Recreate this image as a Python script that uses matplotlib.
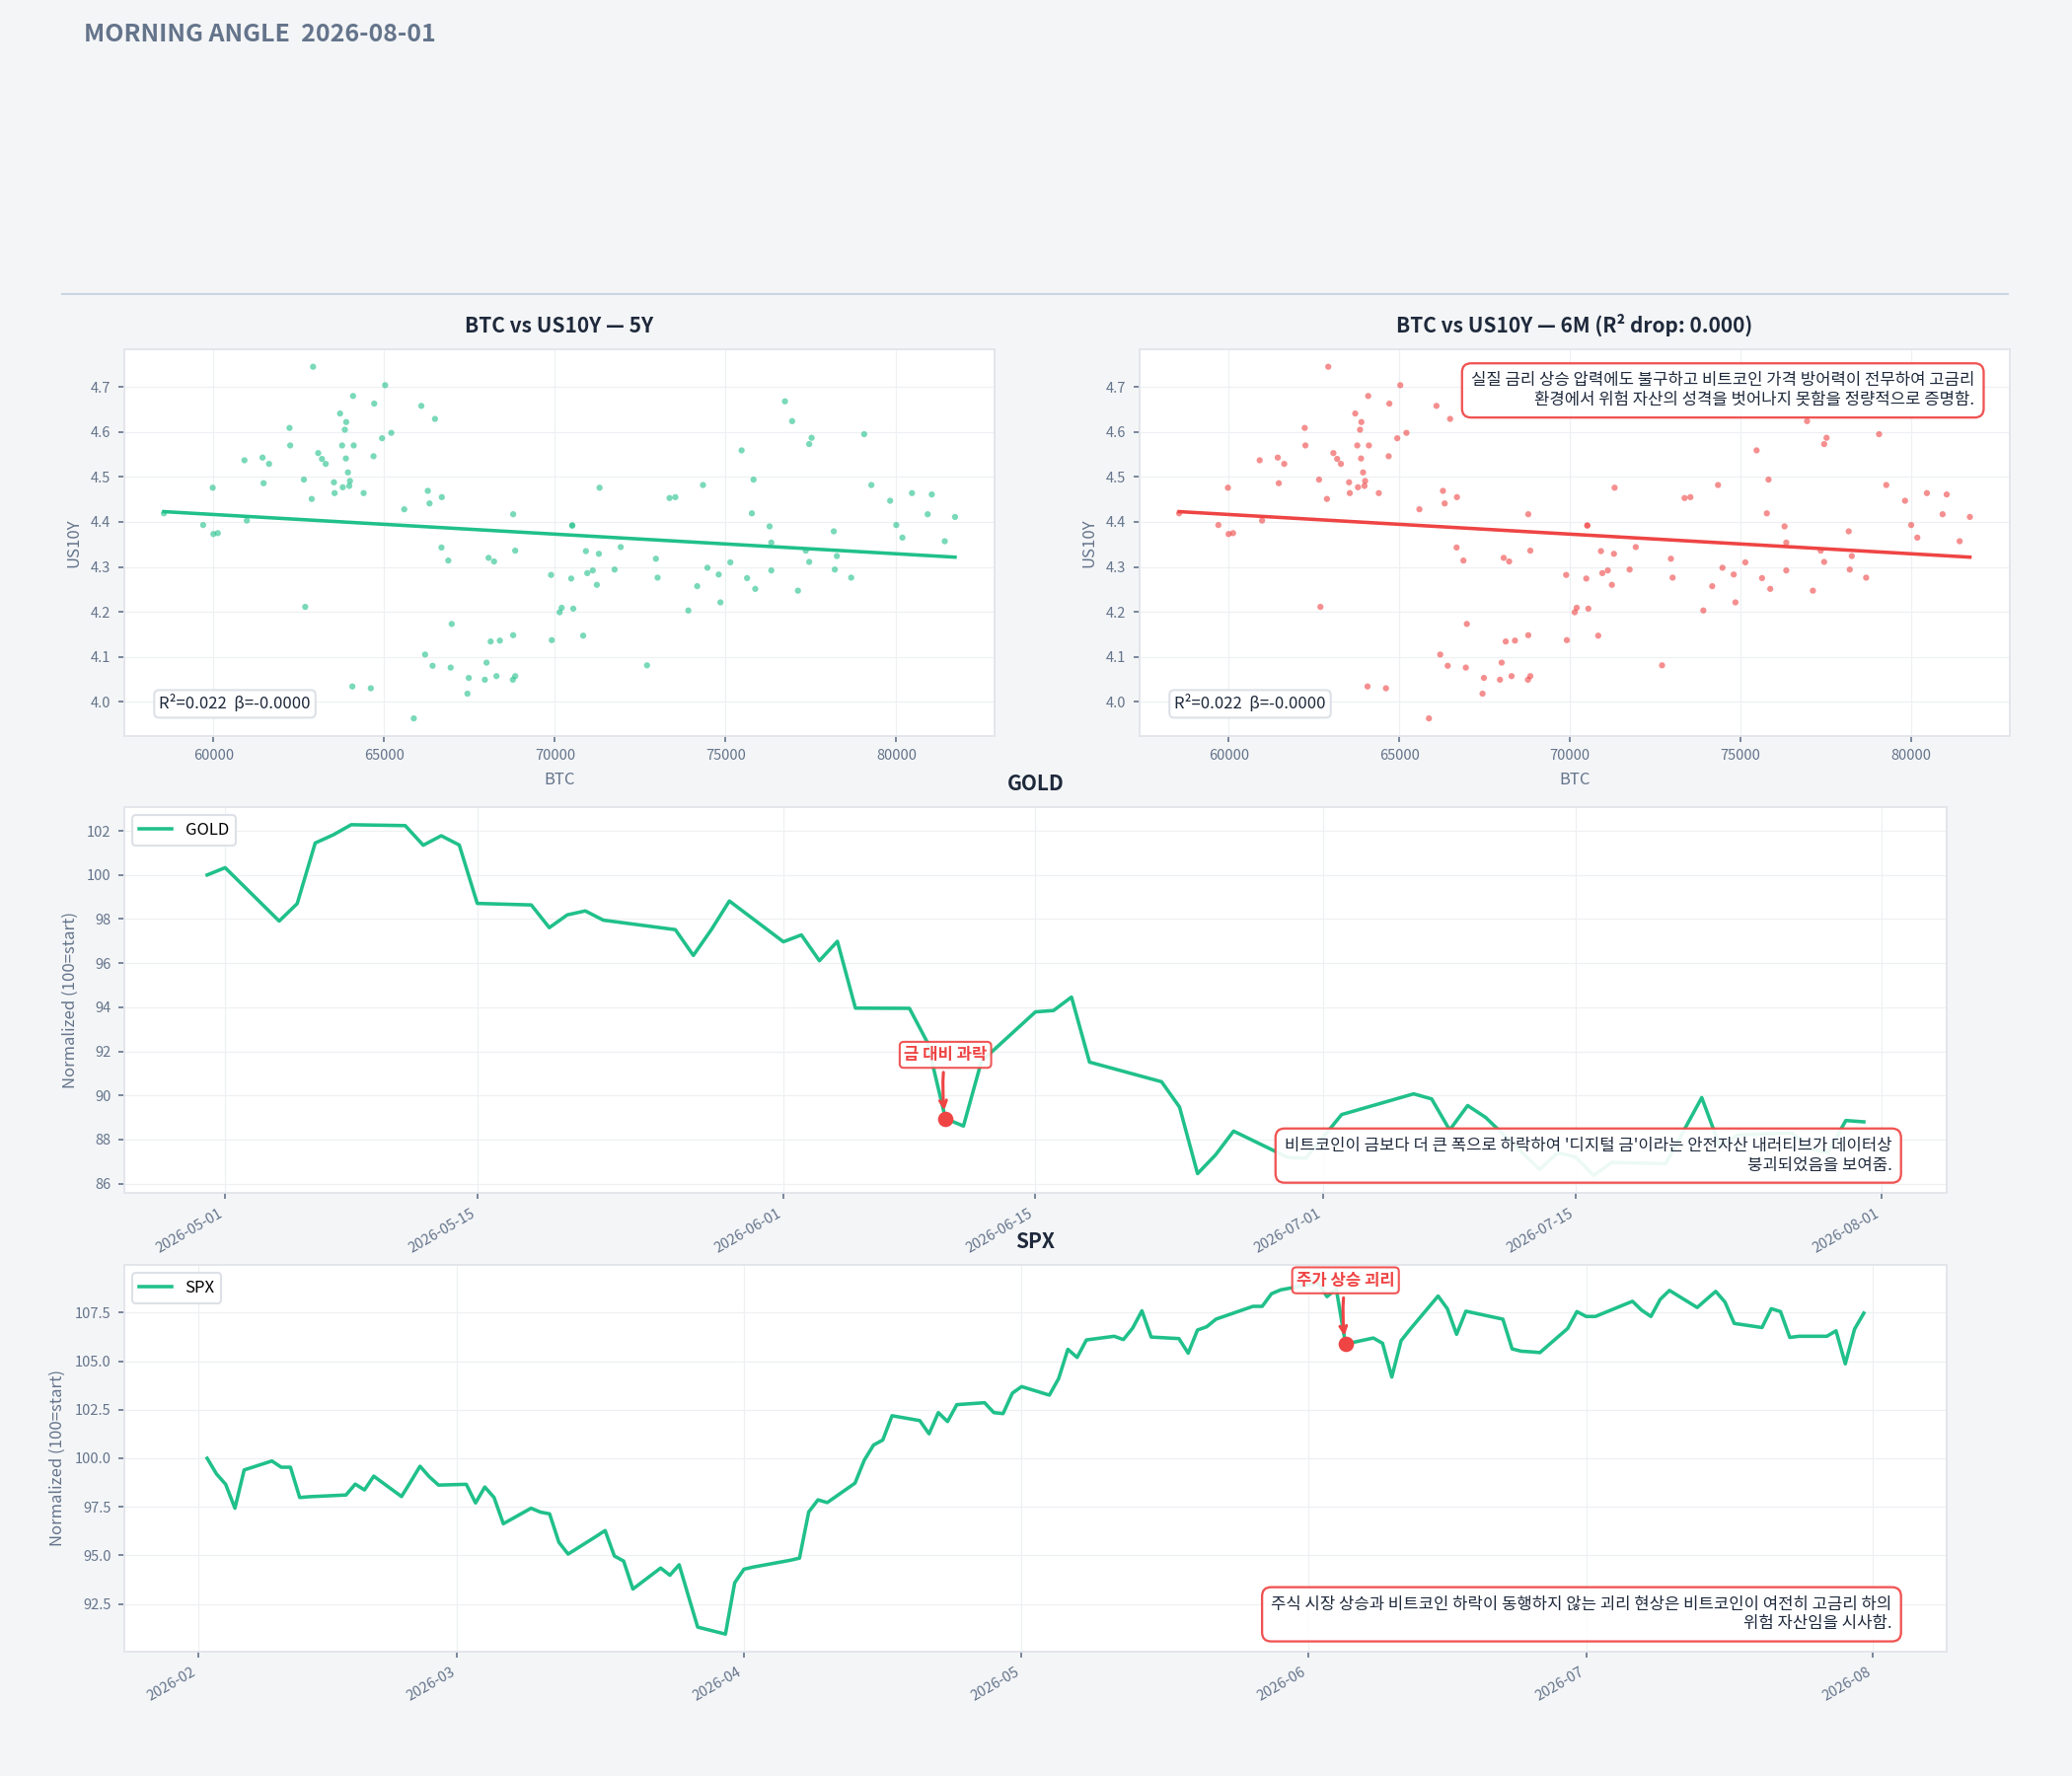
import numpy as np
import pandas as pd
import matplotlib
matplotlib.use('Agg')
import matplotlib.pyplot as plt
import matplotlib.dates as mdates
from matplotlib.lines import Line2D

plt.rcParams['font.family'] = ['Noto Sans CJK KR', 'DejaVu Sans']
plt.rcParams['axes.unicode_minus'] = False

# %% data

btc = [58550, 59980, 59700, 60000, 60130, 60980, 60910, 61440, 61630, 61470,
       62230, 62250, 62650, 62880, 62920, 62690, 63070, 63180, 63290, 63530,
       63550, 63790, 63710, 63890, 63850, 63770, 63880, 63940, 64000, 63980,
       64090, 64110, 64400, 64710, 64690, 64940, 65030, 65210, 64070, 64610,
       65590, 66090, 66490, 66280, 66330, 66690, 66680, 66880, 66980, 66200,
       66420, 66950, 65870, 67480, 67440, 67950, 68000, 68120, 68390, 68780,
       68290, 68770, 68840, 68060, 68220, 68780, 68840, 69890, 69910,
       70140, 70200, 70540, 70510, 70510, 70480, 70830, 70910, 70950, 71110,
       71230, 71290, 71310, 71750, 71930, 72700, 72960, 73010, 73360, 73530,
       73910, 74170, 74340, 74470, 74800, 74850, 75140, 75470, 75630, 75820,
       75770, 75870, 76290, 76340, 76340, 76740, 76950, 77450, 77520, 77120,
       77350, 77450, 78170, 78260, 78200, 78680, 79060, 79270, 79820, 80000,
       80180, 80460, 81040, 80920, 81420, 81720]

us10y = [4.419, 4.476, 4.393, 4.373, 4.375, 4.403, 4.537, 4.543, 4.529, 4.486,
         4.609, 4.570, 4.494, 4.451, 4.745, 4.211, 4.553, 4.540, 4.529, 4.488,
         4.464, 4.477, 4.641, 4.622, 4.605, 4.570, 4.541, 4.510, 4.491, 4.480,
         4.680, 4.570, 4.464, 4.663, 4.546, 4.586, 4.704, 4.598, 4.034, 4.030,
         4.428, 4.658, 4.629, 4.469, 4.441, 4.455, 4.343, 4.314, 4.173, 4.105,
         4.080, 4.076, 3.963, 4.053, 4.018, 4.049, 4.087, 4.134, 4.136, 4.148,
         4.057, 4.049, 4.057, 4.320, 4.312, 4.417, 4.336, 4.282, 4.137,
         4.199, 4.209, 4.207, 4.392, 4.392, 4.274, 4.147, 4.335, 4.286, 4.292,
         4.260, 4.329, 4.476, 4.294, 4.344, 4.081, 4.318, 4.276, 4.453, 4.455,
         4.203, 4.257, 4.482, 4.298, 4.283, 4.221, 4.310, 4.559, 4.275, 4.494,
         4.419, 4.251, 4.390, 4.354, 4.292, 4.668, 4.624, 4.573, 4.587, 4.247,
         4.336, 4.311, 4.379, 4.324, 4.294, 4.276, 4.595, 4.482, 4.447, 4.393,
         4.365, 4.464, 4.461, 4.417, 4.357, 4.411]

gold_dates = ['2026-04-30', '2026-05-01', '2026-05-04', '2026-05-05', '2026-05-06',
              '2026-05-07', '2026-05-08', '2026-05-11', '2026-05-12', '2026-05-13',
              '2026-05-14', '2026-05-15', '2026-05-18', '2026-05-19', '2026-05-20',
              '2026-05-21', '2026-05-22', '2026-05-26', '2026-05-27', '2026-05-28',
              '2026-05-29', '2026-06-01', '2026-06-02', '2026-06-03', '2026-06-04',
              '2026-06-05', '2026-06-08', '2026-06-09', '2026-06-10', '2026-06-11',
              '2026-06-12', '2026-06-15', '2026-06-16', '2026-06-17', '2026-06-18',
              '2026-06-22', '2026-06-23', '2026-06-24', '2026-06-25', '2026-06-26',
              '2026-06-29', '2026-06-30', '2026-07-01', '2026-07-02', '2026-07-06',
              '2026-07-07', '2026-07-08', '2026-07-09', '2026-07-10', '2026-07-13',
              '2026-07-14', '2026-07-15', '2026-07-16', '2026-07-17', '2026-07-20',
              '2026-07-21', '2026-07-22', '2026-07-23', '2026-07-24', '2026-07-27',
              '2026-07-28', '2026-07-29', '2026-07-30', '2026-07-31']
gold_vals = [100.0, 100.33, 97.91, 98.70, 101.45,
             101.82, 102.28, 102.24, 101.35, 101.78,
             101.36, 98.71, 98.64, 97.61, 98.19,
             98.37, 97.95, 97.52, 96.35, 97.52,
             98.82, 96.97, 97.28, 96.11, 96.99,
             93.96, 93.95, 92.40, 88.95, 88.61,
             91.55, 93.79, 93.85, 94.46, 91.51,
             90.62, 89.47, 86.45, 87.30, 88.38,
             87.19, 87.15, 88.13, 89.13, 90.07,
             89.84, 88.43, 89.54, 89.00, 86.64,
             87.40, 87.20, 86.37, 86.96, 86.90,
             88.40, 89.90, 87.70, 88.20, 88.30,
             87.60, 87.40, 88.86, 88.80]

spx_dates = ['2026-02-02', '2026-02-03', '2026-02-04', '2026-02-05', '2026-02-06',
             '2026-02-09', '2026-02-10', '2026-02-11', '2026-02-12', '2026-02-13',
             '2026-02-17', '2026-02-18', '2026-02-19', '2026-02-20', '2026-02-23',
             '2026-02-24', '2026-02-25', '2026-02-26', '2026-02-27', '2026-03-02',
             '2026-03-03', '2026-03-04', '2026-03-05', '2026-03-06', '2026-03-09',
             '2026-03-10', '2026-03-11', '2026-03-12', '2026-03-13', '2026-03-16',
             '2026-03-17', '2026-03-18', '2026-03-19', '2026-03-20', '2026-03-23',
             '2026-03-24', '2026-03-25', '2026-03-26', '2026-03-27', '2026-03-30',
             '2026-03-31', '2026-04-01', '2026-04-02', '2026-04-06', '2026-04-07',
             '2026-04-08', '2026-04-09', '2026-04-10', '2026-04-13', '2026-04-14',
             '2026-04-15', '2026-04-16', '2026-04-17', '2026-04-20', '2026-04-21',
             '2026-04-22', '2026-04-23', '2026-04-24', '2026-04-27', '2026-04-28',
             '2026-04-29', '2026-04-30', '2026-05-01', '2026-05-04', '2026-05-05',
             '2026-05-06', '2026-05-07', '2026-05-08', '2026-05-11', '2026-05-12',
             '2026-05-13', '2026-05-14', '2026-05-15', '2026-05-18', '2026-05-19',
             '2026-05-20', '2026-05-21', '2026-05-22', '2026-05-26', '2026-05-27',
             '2026-05-28', '2026-05-29', '2026-06-01', '2026-06-02', '2026-06-03',
             '2026-06-04', '2026-06-05', '2026-06-08', '2026-06-09', '2026-06-10',
             '2026-06-11', '2026-06-12', '2026-06-15', '2026-06-16', '2026-06-17',
             '2026-06-18', '2026-06-22', '2026-06-23', '2026-06-24', '2026-06-25',
             '2026-06-26', '2026-06-29', '2026-06-30', '2026-07-01', '2026-07-02',
             '2026-07-06', '2026-07-07', '2026-07-08', '2026-07-09', '2026-07-10',
             '2026-07-13', '2026-07-14', '2026-07-15', '2026-07-16', '2026-07-17',
             '2026-07-20', '2026-07-21', '2026-07-22', '2026-07-23', '2026-07-24',
             '2026-07-27', '2026-07-28', '2026-07-29', '2026-07-30', '2026-07-31']
spx_vals = [100.0, 99.20, 98.66, 97.43, 99.40,
            99.86, 99.54, 99.54, 97.98, 98.02,
            98.11, 98.67, 98.37, 99.08, 98.03,
            98.80, 99.59, 99.05, 98.62, 98.66,
            97.70, 98.52, 97.98, 96.63, 97.43,
            97.23, 97.14, 95.68, 95.07, 95.97,
            96.28, 94.97, 94.71, 93.27, 94.35,
            93.98, 94.52, 92.91, 91.31, 90.95,
            93.59, 94.29, 94.40, 94.75, 94.86,
            97.24, 97.86, 97.72, 98.72, 99.90,
            100.68, 100.94, 102.19, 101.94, 101.26,
            102.35, 101.89, 102.76, 102.86, 102.35,
            102.30, 103.35, 103.69, 103.25, 104.10,
            105.61, 105.19, 106.09, 106.28, 106.11,
            106.70, 107.59, 106.24, 106.16, 105.41,
            106.60, 106.77, 107.16, 107.82, 107.82,
            108.47, 108.67, 108.93, 109.05, 108.32,
            108.72, 105.88, 106.19, 105.92, 104.18,
            106.05, 106.65, 108.35, 107.70, 106.38,
            107.57, 107.16, 105.63, 105.51, 105.48,
            105.44, 106.68, 107.55, 107.30, 107.30,
            108.08, 107.62, 107.30, 108.18, 108.64,
            107.76, 108.18, 108.59, 108.04, 106.94,
            106.73, 107.70, 107.55, 106.22, 106.28,
            106.28, 106.56, 104.86, 106.65, 107.47]

header = 'MORNING ANGLE  2026-08-01'
title_5y = 'BTC vs US10Y — 5Y'
title_6m = 'BTC vs US10Y — 6M (R² drop: 0.000)'
stat_text = 'R²=0.022  β=-0.0000'
note_6m = ('실질 금리 상승 압력에도 불구하고 비트코인 가격 방어력이 전무하여 고금리\n'
           '환경에서 위험 자산의 성격을 벗어나지 못함을 정량적으로 증명함.')
gold_mark_date = '2026-06-10'
gold_mark_label = '금 대비 과락'
gold_note = ("비트코인이 금보다 더 큰 폭으로 하락하여 '디지털 금'이라는 안전자산 내러티브가 데이터상\n"
             "붕괴되었음을 보여줌.")
spx_mark_date = '2026-06-05'
spx_mark_label = '주가 상승 괴리'
spx_note = ('주식 시장 상승과 비트코인 하락이 동행하지 않는 괴리 현상은 비트코인이 여전히 고금리 하의\n'
            '위험 자산임을 시사함.')

# %% style

BG = '#f4f5f7'
GREEN = '#20c08a'
RED = '#ef4444'
DARK = '#1e293b'
MUTED = '#64748b'
SPINE = '#e2e5ea'
GRID = '#eef0f3'


def style_axes(ax):
    ax.set_facecolor('white')
    for s in ax.spines.values():
        s.set_color(SPINE)
        s.set_linewidth(0.9)
    ax.grid(True, color=GRID, linewidth=0.6)
    ax.set_axisbelow(True)
    ax.tick_params(labelsize=7, colors=MUTED, length=3, width=0.8)


def draw_scatter(ax, color, title, note=None):
    style_axes(ax)
    x = np.array(btc, dtype=float)
    y = np.array(us10y)
    ax.scatter(x, y, s=9, color=color, alpha=0.6, edgecolors='none')
    slope, icpt = np.polyfit(x, y, 1)
    xs = np.array([x.min(), x.max()])
    ax.plot(xs, slope * xs + icpt, color=color, lw=1.7)
    ax.set_title(title, fontsize=10, fontweight='bold', color=DARK, pad=8)
    ax.set_xlabel('BTC', fontsize=8, color=MUTED)
    ax.set_ylabel('US10Y', fontsize=8, color=MUTED)
    ax.text(0.04, 0.06, stat_text, transform=ax.transAxes, fontsize=8,
            color=DARK, va='bottom', ha='left',
            bbox=dict(boxstyle='round,pad=0.3', fc='white', ec='#dde1e7', lw=1))
    if note:
        ax.text(0.96, 0.94, note, transform=ax.transAxes, fontsize=8,
                color=DARK, va='top', ha='right',
                bbox=dict(boxstyle='round,pad=0.55', fc='white', ec=RED, lw=1.1, alpha=0.92))


def draw_series(ax, dates, vals, name, mark_date, mark_label, note, fmt, locator):
    style_axes(ax)
    d = pd.to_datetime(dates)
    ax.plot(d, vals, color=GREEN, lw=1.7, label=name)
    ax.set_title(name, fontsize=10, fontweight='bold', color=DARK, pad=8)
    ax.set_ylabel('Normalized (100=start)', fontsize=8, color=MUTED)
    ax.xaxis.set_major_locator(locator)
    ax.xaxis.set_major_formatter(mdates.DateFormatter(fmt))
    for lab in ax.get_xticklabels():
        lab.set_rotation(30)
        lab.set_ha('right')
    leg = ax.legend(loc='upper left', fontsize=8, frameon=True, fancybox=True,
                    edgecolor='#dde1e7', framealpha=1)
    leg.get_frame().set_linewidth(1.0)

    # 마커 + 라벨
    mx = pd.Timestamp(mark_date)
    my = vals[dates.index(mark_date)]
    ax.plot([mx], [my], 'o', color=RED, ms=6.5, zorder=6)
    ax.annotate(mark_label, xy=(mx, my), xytext=(0, 31), textcoords='offset points',
                ha='center', va='center', fontsize=8, fontweight='bold', color=RED,
                bbox=dict(boxstyle='round,pad=0.25', fc='white', ec=RED, lw=1, alpha=0.9),
                arrowprops=dict(arrowstyle='->', color=RED, lw=1.5, shrinkB=4,
                                connectionstyle='arc3,rad=0.08'),
                zorder=7)

    ax.text(0.97, 0.05, note, transform=ax.transAxes, fontsize=8, color=DARK,
            va='bottom', ha='right', zorder=8,
            bbox=dict(boxstyle='round,pad=0.55', fc='white', ec=RED, lw=1.1, alpha=0.92))


# %% figure

fig = plt.figure(figsize=(14, 12), dpi=150)
fig.patch.set_facecolor(BG)

fig.text(0.0405, 0.9767, header, fontsize=12, fontweight='bold', color=MUTED, va='baseline')
fig.add_artist(Line2D([0.03, 0.969], [0.8344, 0.8344], transform=fig.transFigure,
                      color='#cbd5e1', lw=1))

ax1 = fig.add_axes([0.06, 0.5856, 0.42, 0.2178])
ax2 = fig.add_axes([0.55, 0.5856, 0.4198, 0.2178])
ax3 = fig.add_axes([0.06, 0.3283, 0.8795, 0.2172])
ax4 = fig.add_axes([0.06, 0.07, 0.8795, 0.2178])

draw_scatter(ax1, GREEN, title_5y)
draw_scatter(ax2, RED, title_6m, note_6m)
draw_series(ax3, gold_dates, gold_vals, 'GOLD', gold_mark_date, gold_mark_label, gold_note,
            '%Y-%m-%d', mdates.DayLocator(bymonthday=[1, 15]))
draw_series(ax4, spx_dates, spx_vals, 'SPX', spx_mark_date, spx_mark_label, spx_note,
            '%Y-%m', mdates.MonthLocator())

fig.savefig('out.png', dpi=150, facecolor=BG)
